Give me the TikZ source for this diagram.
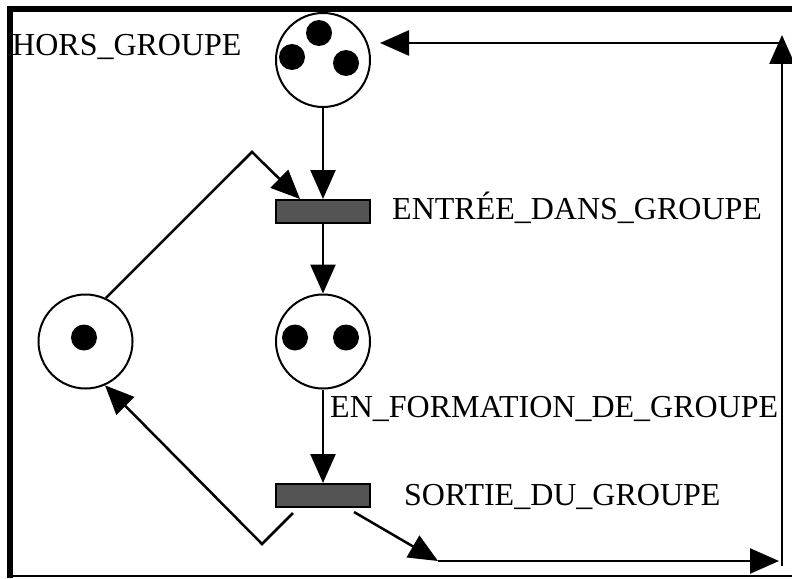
\documentclass[tikz,border=0pt]{standalone}
\usepackage{fontspec}
\setmainfont{Liberation Serif}
\usetikzlibrary{arrows.meta}

\begin{document}
\begin{tikzpicture}[
          x=1pt,y=-1pt,
          place/.style={draw,circle,line width=2pt,minimum size=94pt,inner sep=0pt},
          trans/.style={draw,line width=2pt,fill=black!67,minimum width=94pt,minimum height=23pt,inner sep=0pt},
          lbl/.style={inner sep=0pt,anchor=base west,font=\fontsize{32}{38}\selectfont},
          arc/.style={line width=2.5pt,-{Triangle[length=29pt,width=25pt]}},
          tok/.style={fill=black}
          ]
          \useasboundingbox (0,0) rectangle (792,578);

          % frame
          \draw[line width=6pt] (10,578) -- (10,9) -- (792,9);
          \draw[line width=2pt] (10,576) -- (792,576);

          % places and transitions
          \node[place] (p1) at (323,60) {};
          \node[trans] (t1) at (323,211.5) {};
          \node[place] (p2) at (323,341.5) {};
          \node[trans] (t2) at (323,495.5) {};
          \node[place] (p3) at (85.5,341.5) {};

          % tokens
          \fill[tok] ([shift={(-4,-27)}]p1.center) circle (13pt);
          \fill[tok] ([shift={(-31,-3)}]p1.center) circle (13pt);
          \fill[tok] ([shift={(23,3)}]p1.center) circle (13pt);
          \fill[tok] ([shift={(-28,-4)}]p2.center) circle (13pt);
          \fill[tok] ([shift={(23,-4)}]p2.center) circle (13pt);
          \fill[tok] ([shift={(-1.5,-4)}]p3.center) circle (13pt);

          % labels
          \node[lbl] (l1) at (12,56) {HORS\_GROUPE};
          \node[lbl] (l2) at (392,219) {ENTRÉE\_DANS\_GROUPE};
          \node[lbl] (l3) at (330,417) {EN\_FORMATION\_DE\_GROUPE};
          \node[lbl] (l4) at (404,505) {SORTIE\_DU\_GROUPE};

          % bends of the arcs
          \coordinate (c1) at (252,152);
          \coordinate (c2) at (262,544);
          \coordinate (c3) at (438,561);
          \coordinate (c4) at (779,561);
          \coordinate (c5) at (782,566);
          \coordinate (c6) at (782,35);
          \coordinate (c7) at (782,43);
          \coordinate (c8) at (380,43);

          \draw[arc] (p1) -- (t1);
          \draw[arc] (t1) -- (p2);
          \draw[arc] (p2) -- (t2);
          \draw[arc] (p3.65) -- (c1) -- ([xshift=25pt]t1.north west);
          \draw[arc] ([shift={(18,5)}]t2.south west) -- (c2) -- (p3.-66);
          \draw[arc] ([shift={(79,4)}]t2.south west) -- (c3);
          \draw[arc] (c3) -- (c4);
          \draw[arc] (c5) -- (c6);
          \draw[arc] (c7) -- (c8);
        \end{tikzpicture}
\end{document}
